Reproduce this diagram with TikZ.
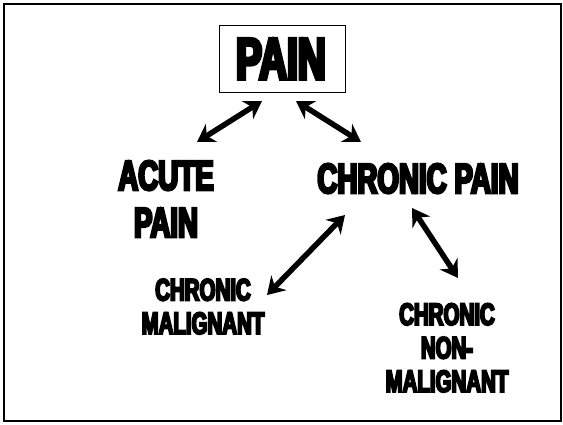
\documentclass[tikz,border=0pt]{standalone}
\usepackage{fontspec}
\setmainfont{Liberation Sans}[BoldFeatures={FakeStretch=0.66,FakeBold=6}]
\usetikzlibrary{arrows.meta}
\begin{document}
\begin{tikzpicture}[x=1pt,y=-1pt,
  bigtxt/.style={font=\bfseries\fontsize{42}{47}\selectfont, align=center, inner sep=0pt, anchor=base},
  smalltxt/.style={font=\bfseries\fontsize{31}{33.5}\selectfont, align=center, inner sep=0pt, anchor=base},
  dbl/.style={line width=5.5pt, {Stealth[length=17pt,width=21pt]}-{Stealth[length=17pt,width=21pt]}}]
\useasboundingbox (0,0) rectangle (563,424);
\draw[line width=2pt] (4,4) rectangle (561,421);
\node[draw, line width=1pt, minimum width=126pt, minimum height=67pt, inner sep=0pt] (box) at (282,58.5) {};
\node[font=\bfseries\fontsize{58.7}{60}\selectfont, inner sep=0pt, anchor=base] (pain) at (281,79) {PAIN};
\node[bigtxt] (acute) at (166,237) {ACUTE\\PAIN};
\node[bigtxt] (chronic) at (418,193) {CHRONIC PAIN};
\node[smalltxt] (mal) at (203,334) {CHRONIC\\MALIGNANT};
\node[smalltxt] (nonmal) at (447,392) {CHRONIC\\NON-\\MALIGNANT};
\coordinate (a1) at (197,142); \coordinate (a2) at (262,101);
\coordinate (b1) at (296,101); \coordinate (b2) at (361,142);
\coordinate (c1) at (345,215); \coordinate (c2) at (267,295);
\coordinate (d1) at (412,208); \coordinate (d2) at (458,278);
\draw[dbl] (a1) -- (a2);
\draw[dbl] (b1) -- (b2);
\draw[dbl] (c1) -- (c2);
\draw[dbl] (d1) -- (d2);
\end{tikzpicture}
\end{document}
